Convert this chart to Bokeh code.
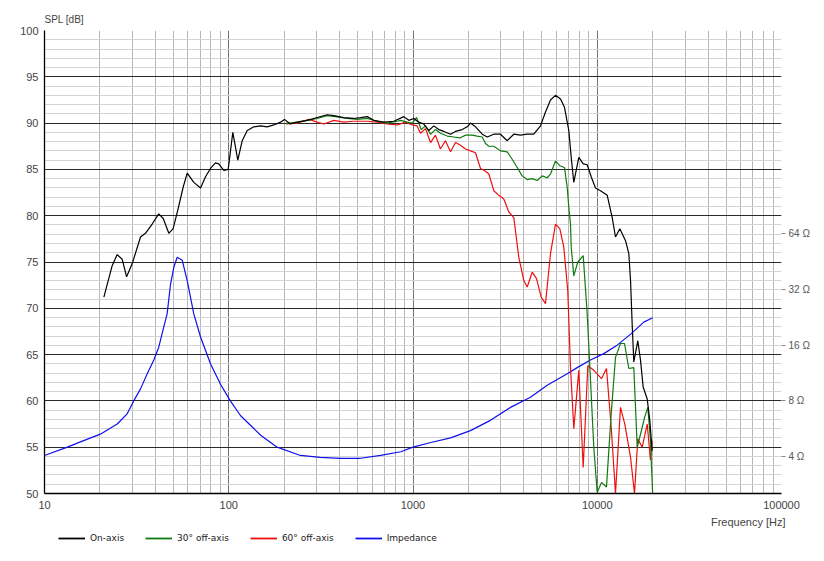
from bokeh.plotting import figure
from bokeh.layouts import column
from bokeh.models import (Range1d, LogScale, LogAxis, FixedTicker, Legend, LegendItem,
                          Title, CustomJSTickFormatter)
from bokeh.embed import file_html
from bokeh.resources import INLINE

# ---------------- data ----------------
on_f = [21, 23.3, 24.8, 26.4, 27.9, 29.9, 33.2, 35.3, 38.4, 41.7, 44.1, 47.3, 49.9, 52.9, 56.6,
        59.5, 64.6, 70.3, 74.8, 79.6, 84.7, 88.3, 94, 99.3, 105.2, 112, 118.3, 126, 136.8, 148.7,
        161.7, 175.6, 191, 200.7, 216, 235, 267, 302, 342, 372, 421, 477, 519, 564, 613, 694, 787,
        891, 949, 1010, 1075, 1145, 1218, 1297, 1380, 1470, 1598, 1701, 1849, 1969, 2051, 2184,
        2375, 2527, 2745, 2985, 3246, 3525, 3832, 4167, 4524, 4920, 5237, 5575, 5935, 6318, 6641,
        7008, 7223, 7460, 7941, 8390, 8819, 9271, 9784, 10410, 11330, 12055, 12560, 13260, 14240,
        14840, 15160, 15490, 15790, 16600, 17170, 17750, 18670, 19280, 19870]
on_db = [71.2, 74.6, 75.8, 75.3, 73.4, 74.8, 77.7, 78.1, 79.1, 80.2, 79.7, 78.1, 78.6, 80.6, 83.1,
         84.6, 83.6, 83.0, 84.2, 85.1, 85.7, 85.6, 84.9, 85.0, 89.0, 86.0, 88.1, 89.2, 89.6, 89.7,
         89.6, 89.8, 90.1, 90.4, 89.9, 90.1, 90.3, 90.6, 90.9, 90.8, 90.6, 90.5, 90.6, 90.7, 90.3,
         90.1, 90.2, 90.7, 90.3, 90.5, 90.1, 89.9, 89.2, 89.7, 89.3, 89.1, 88.8, 89.1, 89.3, 89.6,
         90.0, 89.6, 88.8, 88.5, 88.8, 88.8, 88.1, 88.8, 88.7, 88.8, 88.8, 89.7, 91.2, 92.5, 93.0,
         92.6, 91.7, 89.2, 86.3, 83.6, 86.3, 85.6, 85.5, 84.2, 83.0, 82.7, 82.2, 79.8, 77.7, 78.6,
         77.3, 75.9, 73.0, 68.0, 64.2, 66.5, 64.4, 61.5, 60.2, 57.9, 54.6]

off30_f = [205, 212, 235, 267, 302, 342, 380, 440, 498, 564, 639, 724, 821, 855, 930, 990, 1045,
           1108, 1169, 1245, 1324, 1409, 1533, 1665, 1795, 1928, 2096, 2231, 2375, 2475, 2579, 2745,
           2985, 3246, 3454, 3678, 3914, 4167, 4436, 4721, 5026, 5350, 5575, 5935, 6262, 6641, 6867,
           7008, 7157, 7223, 7460, 7842, 8390, 8819, 9192, 9579, 9993, 10545, 11222, 11904, 12560,
           13370, 14060, 14840, 15790, 16480, 17170, 18050, 18810, 19450, 20020]
off30_db = [90.0, 90.0, 90.1, 90.3, 90.5, 90.8, 90.7, 90.5, 90.4, 90.5, 90.2, 90.0, 90.2, 90.3,
            90.1, 90.0, 90.6, 89.3, 89.7, 88.8, 89.3, 88.9, 88.6, 88.5, 88.4, 88.7, 88.7, 88.6,
            88.5, 87.8, 87.5, 87.5, 87.0, 86.9, 86.1, 85.2, 84.3, 83.9, 84.0, 83.8, 84.3, 84.1,
            84.5, 85.9, 85.4, 85.2, 83.1, 80.9, 79.1, 76.6, 73.5, 75.0, 75.7, 69.4, 62.2, 55.0,
            50.1, 51.2, 50.7, 58.6, 64.7, 66.2, 66.2, 63.5, 63.6, 55.0, 56.4, 58.2, 59.3, 55.7, 49.5]

off60_f = [205, 235, 272, 302, 328, 372, 421, 477, 564, 639, 724, 821, 910, 990, 1053, 1098, 1169,
           1245, 1324, 1409, 1499, 1598, 1701, 1810, 1928, 2051, 2184, 2325, 2475, 2579, 2745, 2922,
           3111, 3311, 3525, 3752, 3994, 4167, 4436, 4681, 4963, 5237, 5575, 5935, 6262, 6583, 6918,
           7157, 7460, 7941, 8390, 8886, 9579, 10545, 11222, 11904, 12560, 13370, 14110, 15160,
           15930, 16600, 17540, 18670, 19450, 19870]
off60_db = [89.9, 90.0, 90.4, 90.1, 89.9, 90.3, 90.1, 90.2, 90.2, 90.1, 89.9, 89.8, 90.1, 89.8,
            89.7, 88.9, 89.4, 87.9, 88.7, 87.2, 88.1, 86.9, 87.9, 87.6, 87.2, 87.0, 86.8, 85.1,
            84.8, 84.5, 82.7, 82.2, 81.8, 80.4, 79.8, 75.5, 73.0, 72.3, 73.9, 73.2, 71.2, 70.5,
            75.9, 79.1, 78.6, 76.6, 71.9, 63.6, 57.0, 63.3, 52.8, 63.8, 63.3, 62.4, 63.5, 57.2,
            50.0, 59.3, 57.5, 53.9, 50.0, 55.9, 55.0, 57.5, 53.6, 55.7]

imp_f = [10, 13.3, 16.3, 20.1, 24.8, 28.1, 30.5, 33.2, 36.1, 39.2, 41.7, 44.4, 46.3, 48.3, 50.3,
         52.5, 55.9, 59.5, 64.6, 70.3, 79.6, 90.2, 102, 116, 149, 183, 245, 314, 404, 519, 667,
         858, 1000, 1250, 1600, 2050, 2630, 3380, 4340, 5350, 6870, 7780, 9190, 10850, 12820,
         15140, 17890, 20000]
imp_ohm = [4.06, 4.50, 4.88, 5.29, 6.00, 6.81, 8.0, 9.29, 11.2, 13.3, 15.6, 20.1, 23.6, 34.1, 42.0,
           47.7, 46.0, 35.7, 23.6, 17.7, 12.7, 9.84, 8.0, 6.65, 5.22, 4.50, 4.06, 3.96, 3.92, 3.92,
           4.06, 4.25, 4.50, 4.77, 5.05, 5.53, 6.28, 7.38, 8.38, 9.73, 11.2, 12.1, 13.3, 14.4, 16.0,
           18.3, 21.3, 22.5]

x_ticks = [10, 100, 1000, 10000, 100000]
y_ticks = [50, 55, 60, 65, 70, 75, 80, 85, 90, 95, 100]
imp_ticks = [4, 8, 16, 32, 64]
series_names = ["On-axis", "30\u00b0 off-axis", "60\u00b0 off-axis", "Impedance"]
series_colors = ["black", "#107a10", "#ee1010", "#1010ee"]

# ---------------- main figure ----------------
FONT = "Liberation Sans"
p = figure(width=816, height=531, x_axis_type="log",
           x_range=Range1d(10, 100000), y_range=Range1d(50, 100),
           output_backend="svg", toolbar_location=None,
           min_border_left=44, min_border_right=35, min_border_top=30, min_border_bottom=38)
p.outline_line_color = None
p.background_fill_color = "white"
p.border_fill_color = "white"

p.extra_y_ranges = {"imp": Range1d(8 * 10 ** (-0.5), 800)}
p.extra_y_scales = {"imp": LogScale()}

minor_x = [m * d for d in [10, 100, 1000, 10000] for m in range(2, 10)]
p.xaxis.ticker = FixedTicker(ticks=x_ticks, minor_ticks=minor_x)
p.yaxis.ticker = FixedTicker(ticks=y_ticks, minor_ticks=list(range(50, 101)))
p.xaxis.formatter = CustomJSTickFormatter(code="return Math.round(tick).toString();")

for ax in [p.xaxis[0], p.yaxis[0]]:
    ax.axis_line_color = "black"
    ax.axis_line_width = 1.3
    ax.major_tick_line_color = None
    ax.minor_tick_line_color = None
    ax.major_tick_out = 0
    ax.major_tick_in = 0
    ax.minor_tick_out = 0
    ax.major_label_text_font = FONT
    ax.major_label_text_font_size = "11px"
    ax.major_label_text_color = "#444444"
p.yaxis.major_label_standoff = 6
p.xaxis.major_label_standoff = 7

p.xgrid.grid_line_color = "#707070"
p.xgrid.minor_grid_line_color = "#b8b8b8"
p.ygrid.grid_line_color = "#2a2a2a"
p.ygrid.minor_grid_line_color = "#d4d4d4"

rax = LogAxis(y_range_name="imp", ticker=FixedTicker(ticks=imp_ticks),
              major_label_overrides={t: f"{t} \u03a9" for t in imp_ticks})
rax.axis_line_color = None
rax.major_tick_out = 4
rax.major_tick_in = 0
rax.major_tick_line_color = "#888888"
rax.minor_tick_line_color = None
rax.major_label_standoff = 3
rax.major_label_text_font = FONT
rax.major_label_text_font_size = "10px"
rax.major_label_text_color = "#555555"
p.add_layout(rax, "right")

p.line(imp_f, imp_ohm, y_range_name="imp", line_color=series_colors[3], line_width=1.2)
p.line(off60_f, off60_db, line_color=series_colors[2], line_width=1.2)
p.line(off30_f, off30_db, line_color=series_colors[1], line_width=1.2)
p.line(on_f, on_db, line_color=series_colors[0], line_width=1.2)

p.title.text = "SPL [dB]"
p.title.text_font = FONT
p.title.text_font_size = "10px"
p.title.text_font_style = "normal"
p.title.text_color = "#444444"
p.title.offset = 0
p.title.vertical_align = "middle"

xt = Title(text="Frequency [Hz]", align="right", text_font=FONT, text_font_size="11px",
           text_font_style="normal", text_color="#444444", offset=-4, standoff=5)
p.add_layout(xt, "below")

# ---------------- legend strip ----------------
lg = figure(width=816, height=24, output_backend="svg", toolbar_location=None,
            x_axis_location=None, y_axis_location=None,
            min_border_left=0, min_border_right=0, min_border_top=0, min_border_bottom=0,
            x_range=Range1d(0, 1), y_range=Range1d(0, 1))
lg.outline_line_color = None
lg.xgrid.visible = False
lg.ygrid.visible = False
items = []
for name, col in zip(series_names, series_colors):
    # placeholder renderer outside the visible range, only for the legend swatch
    r = lg.line(x=[-5, -4], y=[-5, -4], line_color=col, line_width=1.8)
    items.append(LegendItem(label=name, renderers=[r]))
legend = Legend(items=items, orientation="horizontal", location=(14, 11),
                glyph_width=27, glyph_height=12, label_standoff=5, spacing=21,
                label_text_font="DejaVu Sans", label_text_font_size="9px",
                label_text_color="#222222", border_line_alpha=0,
                background_fill_alpha=0, padding=0, margin=0)
lg.add_layout(legend, "center")

layout = column(p, lg, spacing=0)
open("out.html", "w", encoding="utf-8").write(file_html(layout, INLINE))
